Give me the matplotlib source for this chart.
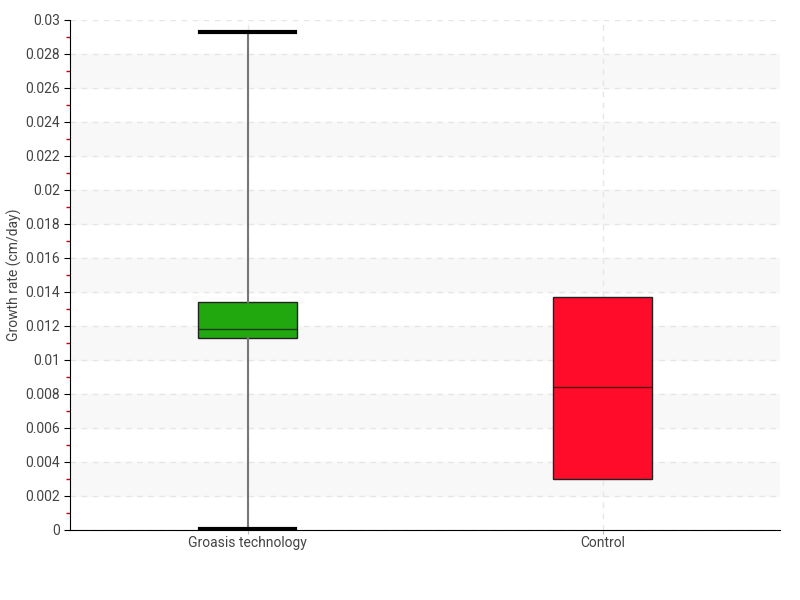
import matplotlib
matplotlib.use('Agg')
import matplotlib.pyplot as plt
import numpy as np

# dados
categorias = ['Groasis technology', 'Control']
minimo  = [0.00005, 0.0030]
q1      = [0.0113, 0.0030]
mediana = [0.0118, 0.0084]
q3      = [0.0134, 0.0137]
maximo  = [0.0293, 0.0137]
cores   = ['#22a80f', '#ff0c2a']

plt.rcParams['font.family'] = ['Roboto', 'DejaVu Sans']

fig = plt.figure(figsize=(8, 6), dpi=100)
ax = fig.add_axes([0.0875, 0.1167, 0.8875, 0.85])

# faixas de fundo
for y0 in np.arange(0.002, 0.028, 0.004):
    ax.axhspan(y0, y0 + 0.002, color='#f8f8f8', zorder=0)

ax.grid(True, color='#e6e6e6', linestyle=(0, (4, 4)), linewidth=1, zorder=0.5)
ax.set_axisbelow(True)

stats = []
for i in range(len(categorias)):
    stats.append(dict(whislo=minimo[i], q1=q1[i], med=mediana[i], q3=q3[i],
                      whishi=maximo[i], label=categorias[i], fliers=[]))

bp = ax.bxp(stats, positions=range(len(categorias)), widths=0.28,
            patch_artist=True, showfliers=False,
            boxprops=dict(edgecolor='#222222', linewidth=1),
            medianprops=dict(color='#1a3a10', linewidth=1),
            whiskerprops=dict(color='#777777', linewidth=1.5),
            capprops=dict(color='black', linewidth=3), capwidths=0.27)
for patch, c in zip(bp['boxes'], cores):
    patch.set_facecolor(c)
bp['medians'][1].set_color('#5a0a10')
# controle sem bigodes visiveis
for art in bp['whiskers'][2:] + bp['caps'][2:]:
    art.set_visible(False)

ax.set_xlim(-0.5, 1.5)
ax.set_ylim(0, 0.03)
ax.set_yticks(np.arange(0, 0.0301, 0.002))
ax.set_yticklabels(['0'] + ['%g' % v for v in np.round(np.arange(0.002, 0.0301, 0.002), 3)])
ax.set_yticks(np.arange(0.001, 0.03, 0.002), minor=True)
ax.tick_params(axis='y', which='major', length=4, labelsize=10, labelcolor='#444444', pad=3)
ax.tick_params(axis='y', which='minor', length=3, color='#cc0000', width=1)
ax.tick_params(axis='x', length=3, color='#bbbbbb', labelsize=10, labelcolor='#444444', pad=1)

for s in ['top', 'right']:
    ax.spines[s].set_visible(False)

ax.set_ylabel('Growth rate (cm/day)', fontsize=10, color='#444444')
ax.yaxis.set_label_coords(-0.068, 0.5)

fig.savefig('out.png', dpi=100)
